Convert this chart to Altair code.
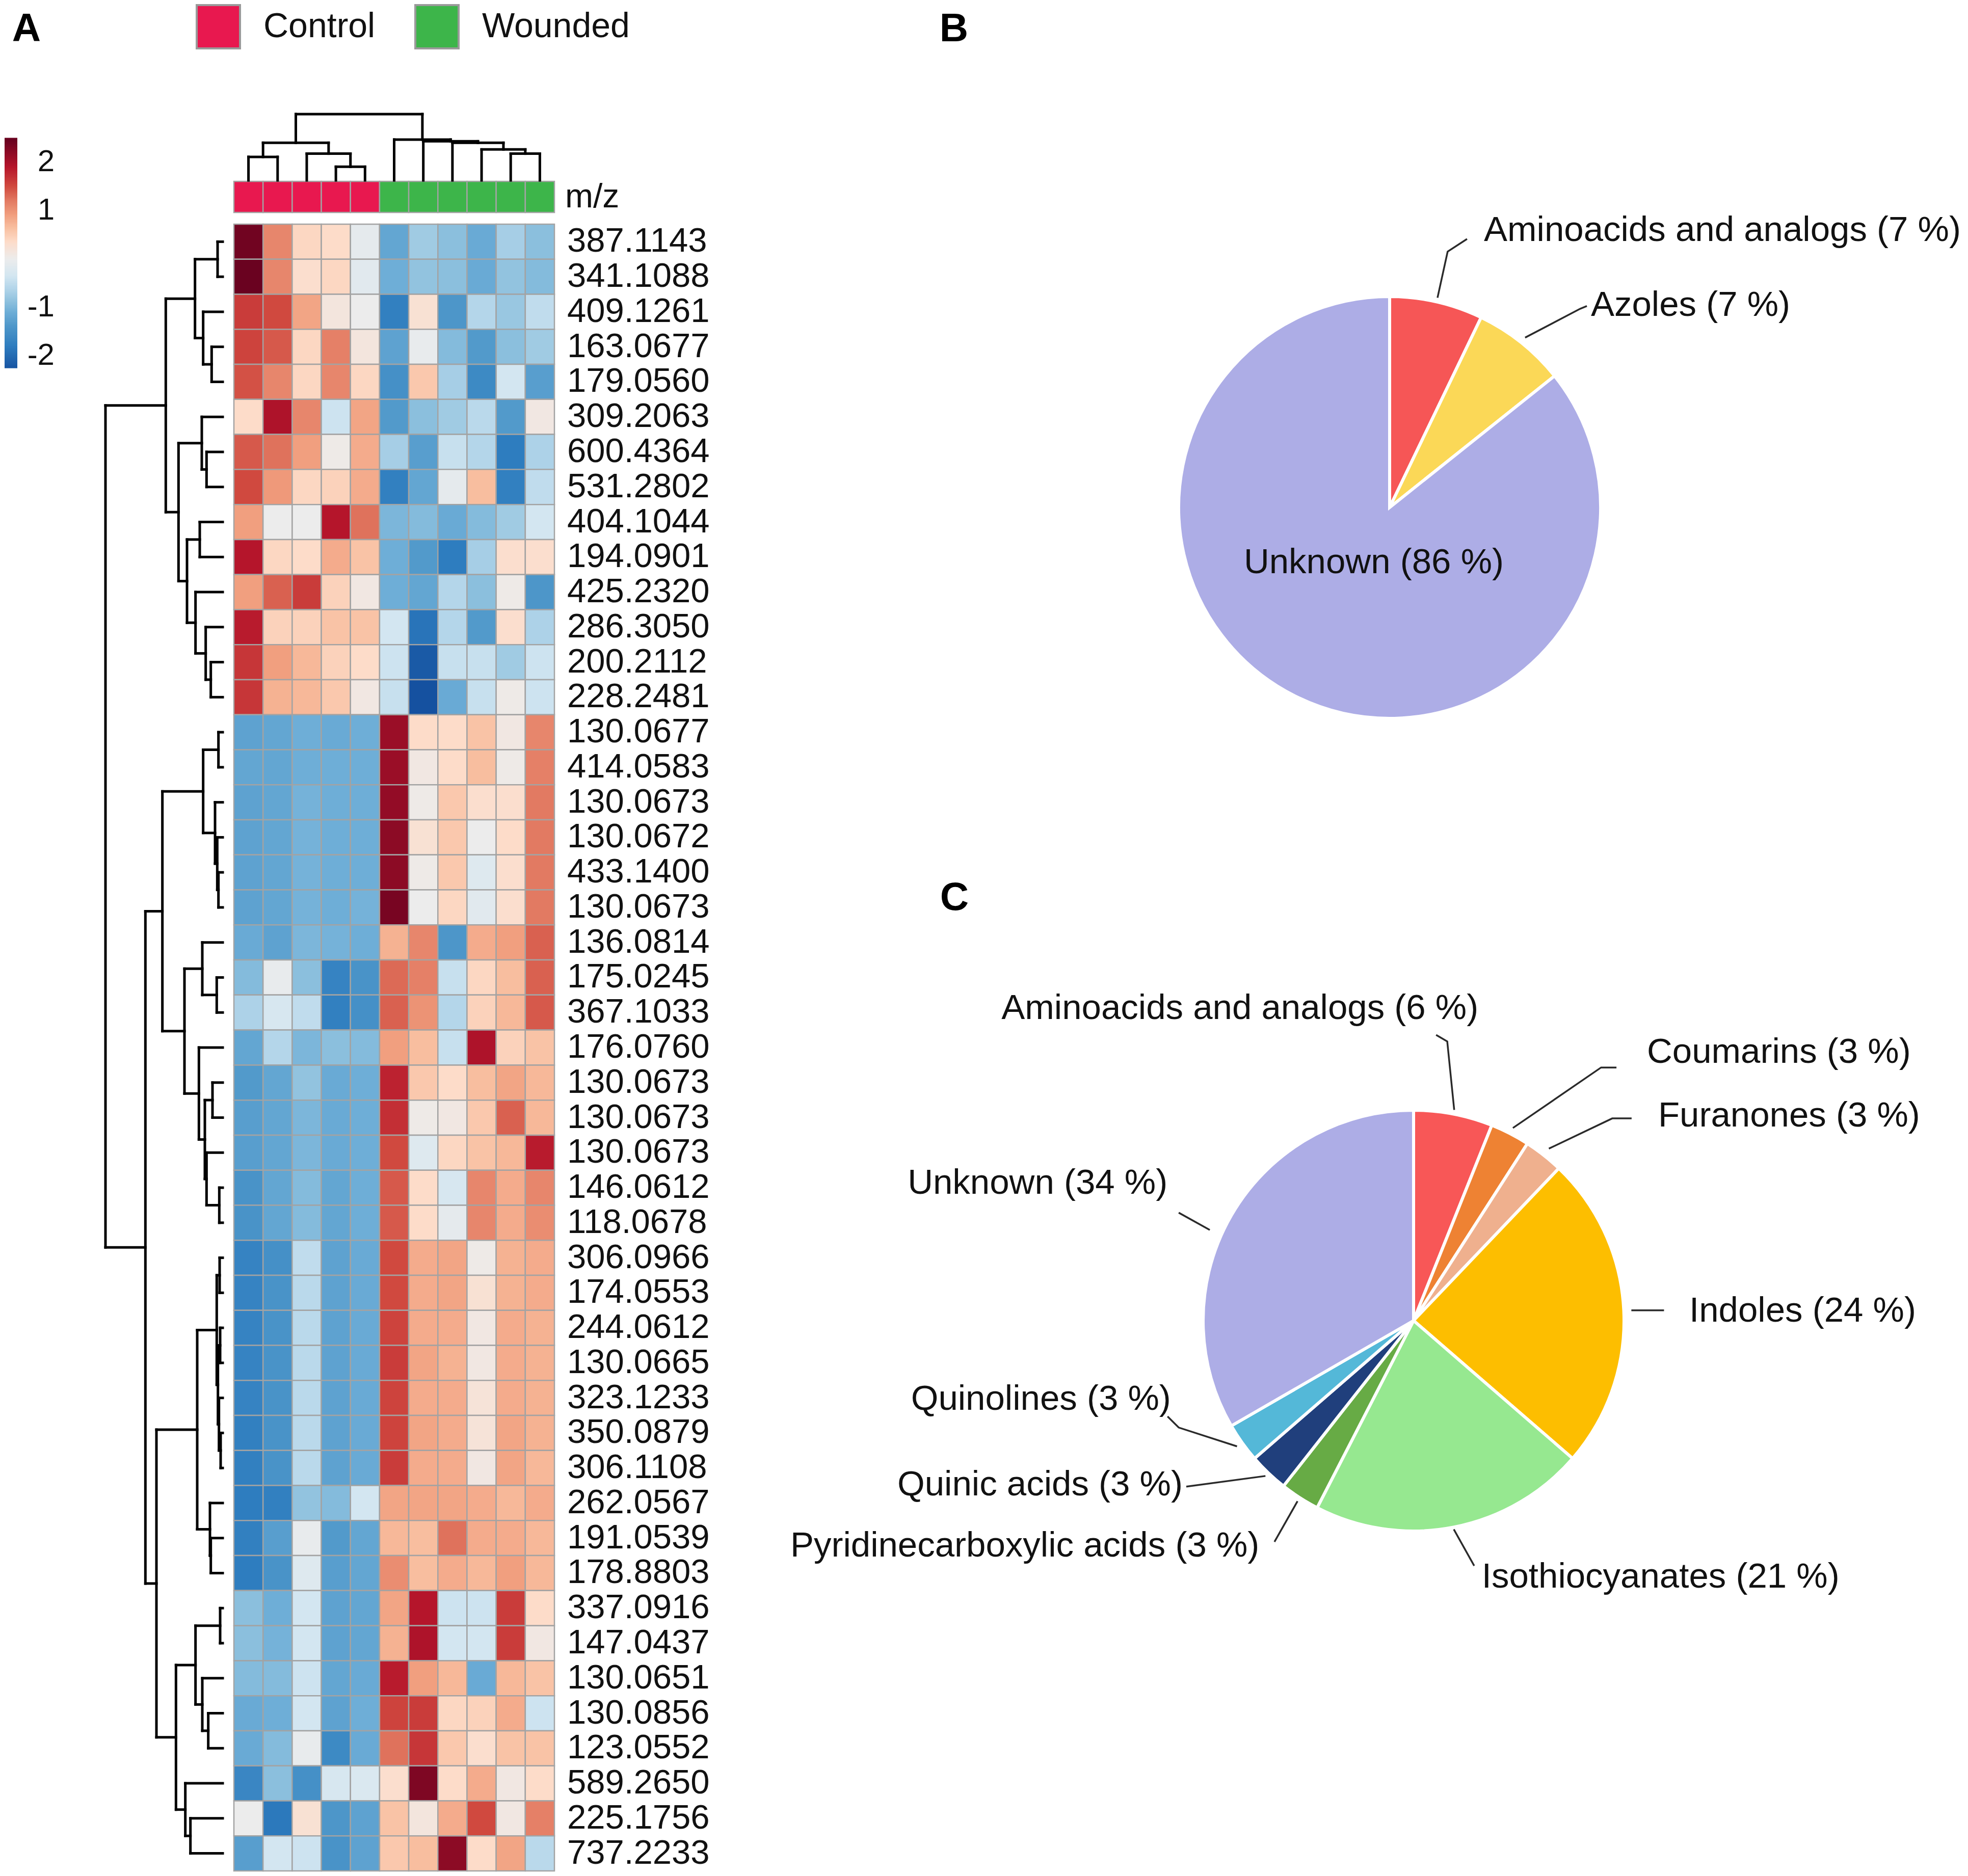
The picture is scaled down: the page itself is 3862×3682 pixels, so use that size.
import math
import altair as alt
import numpy as np
import pandas as pd

FONT = "Liberation Sans"
TXT = "#111111"
OFF = 8
W, H = 3846, 3666


def P(v):
    return v - OFF


# ---------------- data ----------------
mz_labels = ["387.1143", "341.1088", "409.1261", "163.0677", "179.0560", "309.2063", "600.4364",
             "531.2802", "404.1044", "194.0901", "425.2320", "286.3050", "200.2112", "228.2481",
             "130.0677", "414.0583", "130.0673", "130.0672", "433.1400", "130.0673", "136.0814",
             "175.0245", "367.1033", "176.0760", "130.0673", "130.0673", "130.0673", "146.0612",
             "118.0678", "306.0966", "174.0553", "244.0612", "130.0665", "323.1233", "350.0879",
             "306.1108", "262.0567", "191.0539", "178.8803", "337.0916", "147.0437", "130.0651",
             "130.0856", "123.0552", "589.2650", "225.1756", "737.2233"]

col_groups = ["Control"] * 5 + ["Wounded"] * 6

zscores = [
    [2.4, 1.1, 0.4, 0.35, -0.1, -1.2, -0.75, -0.9, -1.15, -0.7, -0.9],
    [2.45, 1.1, 0.3, 0.4, -0.15, -1.1, -0.85, -0.9, -1.15, -0.85, -0.95],
    [1.6, 1.5, 0.85, 0.15, 0.0, -1.75, 0.25, -1.4, -0.6, -0.8, -0.5],
    [1.55, 1.4, 0.4, 1.15, 0.15, -1.25, -0.05, -0.95, -1.35, -0.9, -0.75],
    [1.45, 1.1, 0.4, 1.1, 0.4, -1.5, 0.55, -0.7, -1.6, -0.35, -1.3],
    [0.35, 1.95, 1.1, -0.4, 0.85, -1.35, -0.9, -0.75, -0.55, -1.35, 0.1],
    [1.4, 1.25, 0.9, 0.05, 0.8, -0.7, -1.3, -0.45, -0.6, -1.8, -0.65],
    [1.5, 0.95, 0.4, 0.45, 0.8, -1.75, -1.2, -0.1, 0.65, -1.75, -0.5],
    [0.9, 0.0, 0.0, 1.9, 1.25, -1.0, -0.95, -1.15, -0.95, -0.75, -0.35],
    [1.9, 0.4, 0.35, 0.8, 0.6, -1.1, -1.35, -1.8, -0.7, 0.3, 0.3],
    [0.9, 1.35, 1.6, 0.45, 0.1, -1.1, -1.2, -0.6, -0.9, 0.05, -1.4],
    [1.85, 0.45, 0.45, 0.6, 0.6, -0.35, -1.9, -0.6, -1.35, 0.3, -0.65],
    [1.65, 0.9, 0.7, 0.45, 0.35, -0.4, -2.2, -0.45, -0.45, -0.75, -0.4],
    [1.65, 0.75, 0.7, 0.55, 0.1, -0.45, -2.3, -1.15, -0.45, 0.05, -0.4],
    [-1.25, -1.2, -1.1, -1.15, -1.1, 2.1, 0.35, 0.35, 0.6, 0.1, 1.1],
    [-1.2, -1.2, -1.1, -1.1, -1.1, 2.1, 0.1, 0.35, 0.65, 0.05, 1.15],
    [-1.25, -1.2, -1.05, -1.1, -1.1, 2.15, 0.05, 0.55, 0.3, 0.3, 1.2],
    [-1.25, -1.2, -1.05, -1.1, -1.1, 2.2, 0.25, 0.55, 0.0, 0.35, 1.2],
    [-1.25, -1.2, -1.05, -1.1, -1.1, 2.2, 0.05, 0.55, -0.2, 0.3, 1.2],
    [-1.25, -1.2, -1.05, -1.1, -1.05, 2.35, 0.0, 0.4, -0.15, 0.3, 1.2],
    [-1.15, -1.25, -1.0, -1.05, -1.1, 0.75, 1.1, -1.4, 0.8, 0.9, 1.35],
    [-0.95, -0.05, -0.9, -1.7, -1.45, 1.3, 1.15, -0.45, 0.4, 0.65, 1.35],
    [-0.65, -0.3, -0.5, -1.75, -1.5, 1.35, 1.0, -0.6, 0.45, 0.7, 1.4],
    [-1.2, -0.6, -1.0, -0.9, -0.95, 0.9, 0.65, -0.45, 1.95, 0.45, 0.6],
    [-1.35, -1.2, -0.85, -1.15, -1.1, 1.8, 0.55, 0.35, 0.65, 0.85, 0.7],
    [-1.3, -1.2, -1.0, -1.15, -1.1, 1.7, 0.05, 0.1, 0.55, 1.35, 0.7],
    [-1.3, -1.2, -1.0, -1.15, -1.1, 1.5, -0.2, 0.4, 0.6, 0.7, 1.85],
    [-1.45, -1.2, -0.95, -1.2, -1.1, 1.4, 0.35, -0.3, 1.1, 0.8, 1.1],
    [-1.45, -1.2, -0.95, -1.2, -1.1, 1.4, 0.35, -0.1, 1.1, 0.8, 1.05],
    [-1.7, -1.5, -0.5, -1.25, -1.15, 1.5, 0.8, 0.85, 0.05, 0.75, 0.8],
    [-1.7, -1.45, -0.55, -1.25, -1.15, 1.5, 0.8, 0.85, 0.25, 0.75, 0.8],
    [-1.7, -1.45, -0.55, -1.25, -1.15, 1.55, 0.8, 0.8, 0.1, 0.8, 0.75],
    [-1.7, -1.45, -0.55, -1.25, -1.15, 1.6, 0.85, 0.75, 0.1, 0.8, 0.75],
    [-1.7, -1.45, -0.55, -1.25, -1.15, 1.55, 0.8, 0.8, 0.2, 0.8, 0.75],
    [-1.75, -1.45, -0.55, -1.25, -1.15, 1.55, 0.85, 0.8, 0.2, 0.85, 0.75],
    [-1.75, -1.45, -0.55, -1.25, -1.15, 1.6, 0.8, 0.8, 0.1, 0.85, 0.7],
    [-1.8, -1.75, -0.85, -0.95, -0.35, 0.85, 0.85, 0.85, 0.8, 0.7, 0.8],
    [-1.75, -1.3, -0.05, -1.35, -1.2, 0.7, 0.65, 1.25, 0.8, 0.8, 0.7],
    [-1.8, -1.45, -0.2, -1.3, -1.2, 1.05, 0.65, 0.8, 0.7, 0.9, 0.7],
    [-0.9, -1.1, -0.35, -1.25, -1.2, 0.85, 1.9, -0.4, -0.4, 1.6, 0.35],
    [-0.9, -1.05, -0.35, -1.25, -1.2, 0.75, 1.95, -0.35, -0.35, 1.6, 0.1],
    [-0.95, -0.95, -0.4, -1.2, -1.15, 1.85, 0.9, 0.7, -1.15, 0.7, 0.6],
    [-1.15, -1.1, -0.35, -1.25, -1.1, 1.55, 1.6, 0.4, 0.45, 0.8, -0.4],
    [-1.15, -0.95, -0.05, -1.6, -1.15, 1.25, 1.65, 0.55, 0.3, 0.6, 0.6],
    [-1.65, -0.9, -1.5, -0.3, -0.25, 0.3, 2.3, 0.35, 0.8, 0.1, 0.35],
    [0.0, -1.85, 0.25, -1.4, -1.25, 0.6, 0.15, 0.8, 1.5, 0.1, 1.15],
    [-1.3, -0.35, -0.4, -1.45, -1.25, 0.55, 0.65, 2.2, 0.35, 0.85, -0.55],
]

# dendrograms: [merge height, left, right]; ints are leaf indices
row_tree = [690,
            [335,
             [163, [30, 0, 1], [115, 2, [65, 3, 4]]],
             [260, [123, 5, [95, 6, 7]],
              [210, [135, 8, 9], [160, 10, [100, 11, [70, 12, 13]]]]]],
            [455,
             [355,
              [115, [25, 14, 15], [45, 16, [32, 17, [25, 18, 19]]]],
              [225, [120, 20, [35, 21, 22]],
               [140, 23, [105, [60, 24, 25], [95, 26, [20, 27, 28]]]]]],
             [390,
              [150, [35, [18, 29, 30], [28, [15, 31, 32], [22, 33, [12, 34, 35]]]],
               [75, 36, [70, 37, 38]]],
              [275, [160, [15, 39, 40], [120, 41, [85, 42, 43]]],
               [220, 44, [190, 45, 46]]]]]]

col_tree = [268, [152, [95, 0, 1], [108, 2, [55, 3, 4]]],
            [165, 5, [158, 6, [152, 7, [125, 8, [108, 9, 10]]]]]]

# pie B (control-up features)
cats_B = ["Aminoacids and analogs", "Azoles", "Unknown"]
counts_B = [1, 1, 12]
pcts_B = ["7 %", "7 %", "86 %"]
colors_B = ["#F65656", "#FBD857", "#ADADE6"]

# pie C (wounded-up features)
cats_C = ["Aminoacids and analogs", "Coumarins", "Furanones", "Indoles", "Isothiocyanates",
          "Pyridinecarboxylic acids", "Quinic acids", "Quinolines", "Unknown"]
counts_C = [2, 1, 1, 8, 7, 1, 1, 1, 11]
pcts_C = ["6 %", "3 %", "3 %", "24 %", "21 %", "3 %", "3 %", "3 %", "34 %"]
colors_C = ["#F85757", "#EE8233", "#EFB08E", "#FDBE00", "#96E890", "#67AB45", "#203F7C",
            "#54B8D8", "#ADADE6"]

# ---------------- styles / layout ----------------
heat_stops = [-2.3, -1.8, -1.4, -1.1, -0.85, -0.6, -0.35, 0.0, 0.35, 0.65, 0.9, 1.2, 1.5, 1.9, 2.45]
heat_colors = ["#1551a0", "#2e7dbf", "#4d96c9", "#6eaed7", "#92c3df", "#b4d6ea", "#d3e6f1",
               "#ececec", "#fddcc9", "#f8be9f", "#f19f7f", "#e27a62", "#d0493f", "#b5152b",
               "#6a0220"]


def color_scale():
    return alt.Scale(domain=heat_stops, range=heat_colors, clamp=True, interpolate="rgb")


def lin(domain, rng):
    return alt.Scale(domain=domain, range=rng, nice=False, zero=False)


x_heat = lambda: lin([0, 11], [P(459), P(1088)])
y_heat = lambda: lin([0, 47], [P(440), P(3672)])
y_annot = lambda: lin([0, 1], [P(356), P(417)])
y_coldend = lambda: lin([0, 268], [P(354), P(224)])
x_rowdend = lambda: lin([0, 690], [P(437), P(207)])
y_cbar = lambda: lin([-2, 2], [P(698), P(318)])
x_cbar = lambda: lin([0, 1], [P(9), P(34)])

B_C, B_R = (2727, 996), 414
C_C, C_R = (2774, 2592), 413


def pie_x(c, r):
    return lin([-1, 1], [P(c[0] - r), P(c[0] + r)])


def pie_y(c, r):
    return lin([-1, 1], [P(c[1] + r), P(c[1] - r)])


GRID = "#a3a3a3"


def dendro_segments(tree):
    segs = []

    def walk(n):
        if isinstance(n, int):
            return n + 0.5, 0.0
        h, a, b = n
        pa, ha = walk(a)
        pb, hb = walk(b)
        segs.append((pa, ha, pa, h))
        segs.append((pb, hb, pb, h))
        segs.append((pa, h, pb, h))
        return (pa + pb) / 2, h

    walk(tree)
    return pd.DataFrame(segs, columns=["p1", "h1", "p2", "h2"])


layers = []

# ---- heatmap ----
heat_rows = []
for r, vals in enumerate(zscores):
    for c, v in enumerate(vals):
        heat_rows.append(dict(r0=r, r1=r + 1, c0=c, c1=c + 1, value=v))
heat_df = pd.DataFrame(heat_rows)
layers.append(alt.Chart(heat_df).mark_rect(stroke=GRID, strokeWidth=2.5).encode(
    x=alt.X("c0:Q", scale=x_heat(), axis=None), x2="c1:Q",
    y=alt.Y("r0:Q", scale=y_heat(), axis=None), y2="r1:Q",
    color=alt.Color("value:Q", scale=color_scale(), legend=None)))

lab_df = pd.DataFrame({"mz": mz_labels, "yc": [i + 0.5 for i in range(len(mz_labels))],
                       "xc": [11] * len(mz_labels)})
layers.append(alt.Chart(lab_df).mark_text(align="left", baseline="middle", dx=25, fontSize=67,
                                          font=FONT, color=TXT).encode(
    x=alt.X("xc:Q", scale=x_heat(), axis=None),
    y=alt.Y("yc:Q", scale=y_heat(), axis=None), text="mz:N"))

# ---- annotation bar with legend ----
annot_df = pd.DataFrame({"c0": list(range(11)), "c1": [i + 1 for i in range(11)],
                         "group": col_groups, "b0": [0] * 11, "b1": [1] * 11})
layers.append(alt.Chart(annot_df).mark_rect(stroke=GRID, strokeWidth=2.5).encode(
    x=alt.X("c0:Q", scale=x_heat(), axis=None), x2="c1:Q",
    y=alt.Y("b0:Q", scale=y_annot(), axis=None), y2="b1:Q",
    color=alt.Color("group:N", scale=alt.Scale(domain=["Control", "Wounded"],
                                               range=["#E8184F", "#3DB54A"]),
                    legend=alt.Legend(orient="none", legendX=P(384), legendY=P(8),
                                      direction="horizontal", title=None, symbolType="square",
                                      symbolSize=7225, symbolStrokeColor="#9a9a9a",
                                      symbolStrokeWidth=4, symbolOpacity=1,
                                      labelFontSize=68, labelFont=FONT, labelColor=TXT,
                                      labelOffset=44, columnPadding=70, labelLimit=2000,
                                      padding=0))))

mz_df = pd.DataFrame({"xc": [11], "yc": [0.5], "t": ["m/z"]})
layers.append(alt.Chart(mz_df).mark_text(align="left", baseline="middle", dx=21, fontSize=66,
                                         font=FONT, color=TXT).encode(
    x=alt.X("xc:Q", scale=x_heat(), axis=None),
    y=alt.Y("yc:Q", scale=y_annot(), axis=None), text="t:N"))

# ---- dendrograms ----
col_seg = dendro_segments(col_tree)
layers.append(alt.Chart(col_seg).mark_rule(color="black", strokeWidth=5, strokeCap="square").encode(
    x=alt.X("p1:Q", scale=x_heat(), axis=None), x2="p2:Q",
    y=alt.Y("h1:Q", scale=y_coldend(), axis=None), y2="h2:Q"))

row_seg = dendro_segments(row_tree)
layers.append(alt.Chart(row_seg).mark_rule(color="black", strokeWidth=5, strokeCap="square").encode(
    x=alt.X("h1:Q", scale=x_rowdend(), axis=None), x2="h2:Q",
    y=alt.Y("p1:Q", scale=y_heat(), axis=None), y2="p2:Q"))

# ---- colour bar ----
cb_lo, cb_hi, cb_n = -2.26, 2.5, 160
edges = np.linspace(cb_lo, cb_hi, cb_n + 1)
step = edges[1] - edges[0]
cb_df = pd.DataFrame({"v0": edges[:-1], "v1": np.minimum(edges[1:] + step * 0.6, cb_hi),
                      "vm": (edges[:-1] + edges[1:]) / 2, "x0": 0, "x1": 1})
layers.append(alt.Chart(cb_df).mark_rect().encode(
    x=alt.X("x0:Q", scale=x_cbar(), axis=None), x2="x1:Q",
    y=alt.Y("v0:Q", scale=y_cbar(), axis=None), y2="v1:Q",
    color=alt.Color("vm:Q", scale=color_scale(), legend=None)))

cb_ticks = pd.DataFrame({"v": [2, 1, -1, -2], "t": ["2", "1", "-1", "-2"], "xc": 1})
layers.append(alt.Chart(cb_ticks).mark_text(align="right", baseline="middle", dx=73, fontSize=60,
                                            font=FONT, color=TXT).encode(
    x=alt.X("xc:Q", scale=x_cbar(), axis=None),
    y=alt.Y("v:Q", scale=y_cbar(), axis=None), text="t:N"))


# ---- pies ----
def pie_layers(cats, counts, pcts, colors, center, radius, layout):
    df = pd.DataFrame({"cat": cats, "n": counts, "idx": list(range(len(cats)))})
    xs, ys = pie_x(center, radius), pie_y(center, radius)
    out = [alt.Chart(df).mark_arc(radius=radius, stroke="white", strokeWidth=6).encode(
        theta=alt.Theta("n:Q", stack=True),
        color=alt.Color("cat:N", scale=alt.Scale(domain=cats, range=colors), legend=None),
        order=alt.Order("idx:Q"),
        x=alt.XDatum(0, scale=xs, axis=None),
        y=alt.YDatum(0, scale=ys, axis=None))]
    tot = float(sum(counts))
    cum = np.concatenate([[0], np.cumsum(counts)])
    texts, lines = [], []
    for i, cat in enumerate(cats):
        mid = (cum[i] + cum[i + 1]) / 2.0 / tot * 2 * math.pi + lay_shift(layout[cat])
        lay = layout[cat]
        texts.append(dict(label=f"{cat} ({pcts[i]})", lx=lay["text"][0], ly=lay["text"][1],
                          align=lay["align"]))
        if lay.get("r0"):
            pts = [(lay["r0"] * math.sin(mid), lay["r0"] * math.cos(mid))] + lay["bends"]
            for k, (px, py) in enumerate(pts):
                lines.append(dict(key=cat, k=k, lx=px, ly=py))
    if lines:
        out.append(alt.Chart(pd.DataFrame(lines)).mark_line(color="#2a2a2a", strokeWidth=3.5).encode(
            x=alt.X("lx:Q", scale=pie_x(center, radius), axis=None),
            y=alt.Y("ly:Q", scale=pie_y(center, radius), axis=None),
            detail="key:N", order="k:Q"))
    tdf = pd.DataFrame(texts)
    for al in ["left", "right", "center"]:
        sub = tdf[tdf["align"] == al]
        if len(sub):
            out.append(alt.Chart(sub).mark_text(align=al, baseline="middle", fontSize=69,
                                                font=FONT, color=TXT).encode(
                x=alt.X("lx:Q", scale=pie_x(center, radius), axis=None),
                y=alt.Y("ly:Q", scale=pie_y(center, radius), axis=None),
                text="label:N"))
    return out


def lay_shift(lay):
    # optional angular shift (degrees) of a leader line's anchor on the slice edge
    return math.radians(lay.get("shift", 0.0))


layout_B = {
    "Aminoacids and analogs": dict(text=(0.447, 1.314), align="left", r0=1.02,
                                   bends=[(0.275, 1.213), (0.367, 1.273)]),
    "Azoles": dict(text=(0.954, 0.959), align="left", r0=1.03,
                   bends=[(0.903, 0.942), (0.935, 0.955)]),
    "Unknown": dict(text=(-0.075, -0.261), align="center"),
}
layout_C = {
    "Aminoacids and analogs": dict(text=(0.308, 1.484), align="right", r0=1.02,
                                   bends=[(0.160, 1.327), (0.107, 1.358)]),
    "Coumarins": dict(text=(1.109, 1.276), align="left", r0=1.03,
                      bends=[(0.891, 1.203), (0.964, 1.203)]),
    "Furanones": dict(text=(1.162, 0.973), align="left", r0=1.04,
                      bends=[(0.944, 0.961), (1.036, 0.961)]),
    "Indoles": dict(text=(1.31, 0.046), align="left", r0=1.036, bends=[(1.19, 0.049)]),
    "Isothiocyanates": dict(text=(0.324, -1.218), align="left", r0=1.01, bends=[(0.288, -1.165)]),
    "Pyridinecarboxylic acids": dict(text=(-0.733, -1.070), align="right", r0=1.02,
                                     bends=[(-0.661, -1.051)]),
    "Quinic acids": dict(text=(-1.097, -0.780), align="right", r0=1.02, bends=[(-1.080, -0.789)]),
    "Quinolines": dict(text=(-1.153, -0.373), align="right", r0=1.03,
                       bends=[(-1.116, -0.508), (-1.169, -0.455)]),
    "Unknown": dict(text=(-1.169, 0.654), align="right", r0=1.06, shift=-6,
                    bends=[(-1.116, 0.513)]),
}

layers += pie_layers(cats_B, counts_B, pcts_B, colors_B, B_C, B_R, layout_B)
layers += pie_layers(cats_C, counts_C, pcts_C, colors_C, C_C, C_R, layout_C)

# ---- panel letters (alphabetic baseline at the glyph bottom) ----
for letter, (lx, ly) in {"A": (52, 81), "B": (1872, 81), "C": (1873, 1786)}.items():
    layers.append(alt.Chart(pd.DataFrame({"t": [letter]})).mark_text(
        align="center", baseline="alphabetic", fontSize=78, fontWeight="bold", font=FONT,
        color="black").encode(text="t:N", x=alt.value(P(lx)), y=alt.value(P(ly))))

chart = alt.layer(*layers).resolve_scale(
    x="independent", y="independent", color="independent", theta="independent"
).properties(width=W, height=H, padding=0, autosize=alt.AutoSizeParams(type="none"),
             background="white").configure_view(stroke=None)

chart.save("out.html", embed_options={"renderer": "svg", "actions": False})
